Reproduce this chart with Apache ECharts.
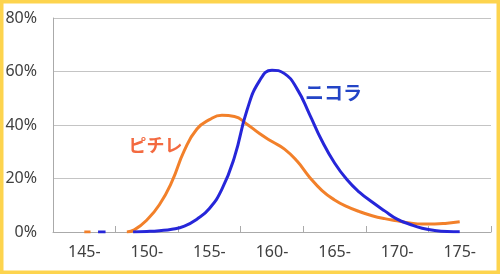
<!DOCTYPE html>
<html>
<head>
<meta charset="utf-8">
<style>
html,body{margin:0;padding:0;background:#fff;}
#chart{width:500px;height:274px;}
</style>
<script src="https://cdn.jsdelivr.net/npm/echarts@6/dist/echarts.min.js"></script>
</head>
<body>
<div id="chart"></div>
<script>
// Category labels (height bands, cm)
const categories = ['145-', '150-', '155-', '160-', '165-', '170-', '175-'];
const yTicks = [0, 20, 40, 60, 80];

// ピチレ (orange) – height (cm) and share (%)
const pichiHeights = [145, 145.5, 146, 148.4, 149, 150, 151, 152, 153, 154, 155, 156, 157, 158, 159, 160, 161, 162, 163, 164, 165, 166, 167, 168, 169, 170, 171, 172, 173, 174, 175];
const pichiValues  = [0, 0, null, 0, 0.8, 4.5, 10.2, 18.8, 30.5, 38.5, 42, 43.6, 43.2, 40.3, 36.8, 33.8, 31, 26.5, 20.5, 15.5, 12, 9.5, 7.6, 6.1, 5, 4.2, 3.4, 3.0, 3.0, 3.3, 3.8];

// ニコラ (blue)
const nicoHeights = [146.1, 146.7, 147, 148.9, 150, 151, 152, 153, 154, 155, 156, 157, 158, 159, 160, 161, 162, 163, 164, 165, 166, 167, 168, 169, 170, 171, 172, 173, 174, 175];
const nicoValues  = [0, 0, null, 0, 0.2, 0.5, 1.0, 2.2, 4.8, 8.8, 16, 28, 45.5, 56.5, 60.5, 59.2, 53.5, 44, 34, 25.8, 19.5, 14.8, 11.2, 7.9, 4.8, 2.9, 1.4, 0.6, 0.2, 0.1];

const zip = (xs, ys) => xs.map((x, i) => [x, ys[i]]);

const chart = echarts.init(document.getElementById('chart'), null, {renderer: 'canvas'});
const font = '"Noto Sans", "DejaVu Sans", sans-serif';

chart.setOption({
  animation: false,
  backgroundColor: '#ffffff',
  grid: {left: 53, right: 9, top: 18, bottom: 42, containLabel: false},
  xAxis: [
    {
      type: 'category',
      data: categories,
      boundaryGap: true,
      axisLine: {show: true, lineStyle: {color: '#aaaaaa', width: 1}},
      axisTick: {show: true, inside: true, length: 6, lineStyle: {color: '#aaaaaa'}},
      axisLabel: {color: '#404040', fontSize: 16, fontFamily: font, margin: 12},
      splitLine: {show: false}
    },
    {
      type: 'value',
      min: 142.5,
      max: 177.5,
      show: false,
      position: 'bottom'
    }
  ],
  yAxis: {
    type: 'value',
    min: yTicks[0],
    max: yTicks[yTicks.length - 1],
    interval: 20,
    axisLine: {show: true, lineStyle: {color: '#aaaaaa', width: 1}},
    axisTick: {show: false},
    axisLabel: {color: '#404040', fontSize: 16, fontFamily: font, margin: 16, formatter: '{value}%'},
    splitLine: {show: true, lineStyle: {color: '#c4c4c4', width: 1}}
  },
  series: [
    {
      name: 'ピチレ',
      type: 'line',
      xAxisIndex: 1,
      data: zip(pichiHeights, pichiValues),
      smooth: 0.5,
      showSymbol: false,
      lineStyle: {color: '#f2802a', width: 3},
      z: 3
    },
    {
      name: 'ニコラ',
      type: 'line',
      xAxisIndex: 1,
      data: zip(nicoHeights, nicoValues),
      smooth: 0.5,
      showSymbol: false,
      lineStyle: {color: '#2626d9', width: 3},
      z: 4
    }
  ],
  graphic: [
    {
      type: 'rect',
      shape: {x: 0, y: 0, width: 500, height: 274},
      style: {fill: 'none', stroke: '#fdd44e', lineWidth: 7},
      silent: true,
      z: 100
    },
    {
      type: 'text',
      x: 155.5, y: 145,
      style: {text: 'ピチレ', fill: '#f36a40', font: 'bold 18px "Noto Sans CJK JP", sans-serif', textAlign: 'center', textVerticalAlign: 'middle'},
      z: 50
    },
    {
      type: 'text',
      x: 333.5, y: 92.5,
      style: {text: 'ニコラ', fill: '#2344c6', font: 'bold 19px "Noto Sans CJK JP", sans-serif', textAlign: 'center', textVerticalAlign: 'middle'},
      z: 50
    }
  ]
});
</script>
</body>
</html>
